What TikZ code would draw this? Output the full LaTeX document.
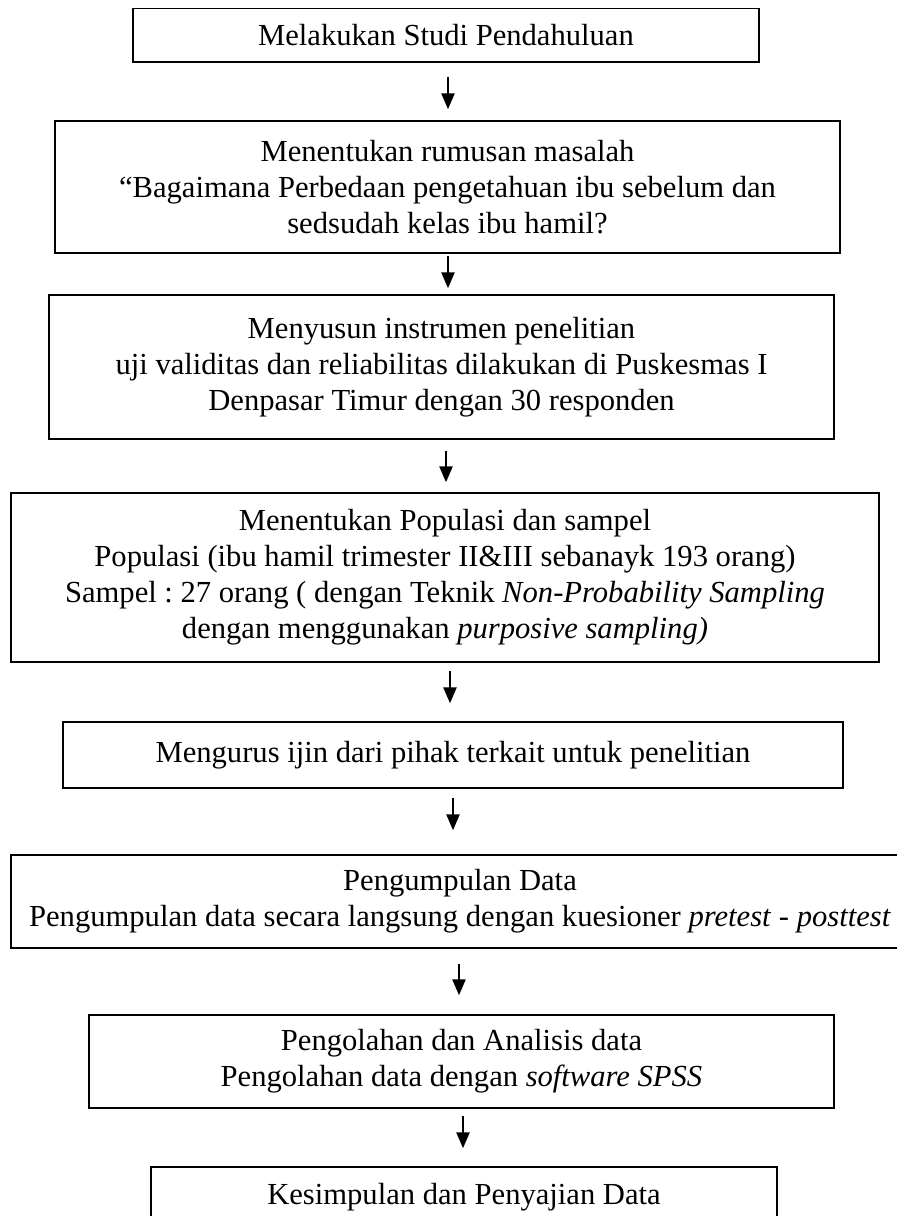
\documentclass[tikz,border=0pt]{standalone}
\usepackage{fontspec}
\setmainfont{Liberation Serif}
\usetikzlibrary{arrows.meta}
\frenchspacing
\newcommand{\boxfont}{\fontsize{30.6}{36}\selectfont}
\tikzset{
  flowarrow/.style={-{Triangle[length=16pt, width=13pt]}, line width=2.5pt},
  stepbox/.style={draw, line width=1.4pt, inner sep=0pt, align=center, font=\boxfont}
}

\begin{document}
\begin{tikzpicture}[x=1pt, y=-1pt]
  \useasboundingbox (0,0) rectangle (897,1216);
  \clip (0,0) rectangle (897,1216);
  \node[stepbox, minimum width=626pt, minimum height=53.5pt] (studi) at (446,35.25) {Melakukan Studi Pendahuluan};
  \node[stepbox, minimum width=785pt, minimum height=132pt] (rumusan) at (447.5,187) {Menentukan rumusan masalah\\ “Bagaimana Perbedaan pengetahuan ibu sebelum dan\\ sedsudah kelas ibu hamil?};
  \node[stepbox, minimum width=785pt, minimum height=144pt] (instrumen) at (441.5,367) {Menyusun instrumen penelitian\\ uji validitas dan reliabilitas dilakukan di Puskesmas I\\ Denpasar Timur dengan 30 responden};
  \node[stepbox, minimum width=868pt, minimum height=169pt] (populasi) at (445,577.5) {Menentukan Populasi dan sampel\\ Populasi (ibu hamil trimester II\&III sebanayk 193 orang)\\ Sampel : 27 orang ( dengan Teknik \textit{Non-Probability Sampling}\\ dengan menggunakan \textit{purposive sampling)}};
  \node[stepbox, minimum width=780pt, minimum height=66pt] (ijin) at (453,755) {Mengurus ijin dari pihak terkait untuk penelitian};
  \node[stepbox, minimum width=898pt, minimum height=93pt] (pengumpulan) at (460,901.5) {Pengumpulan Data\\ Pengumpulan data secara langsung dengan kuesioner \textit{pretest} - \textit{posttest}};
  \node[stepbox, minimum width=745pt, minimum height=93pt] (analisis) at (461.5,1061.5) {Pengolahan dan Analisis data\\ Pengolahan data dengan \textit{software SPSS}};
  \node[stepbox, minimum width=626pt, minimum height=60pt] (kesimpulan) at (464,1197) {Kesimpulan dan Penyajian Data};
  % arrows between the steps
  \draw[flowarrow] ([xshift=2pt, yshift=-14pt]studi.south) -- ([xshift=0.5pt, yshift=11pt]rumusan.north);
  \draw[flowarrow] ([xshift=0.5pt, yshift=-2pt]rumusan.south) -- ([xshift=6.5pt, yshift=6pt]instrumen.north);
  \draw[flowarrow] ([xshift=4.5pt, yshift=-11pt]instrumen.south) -- ([xshift=1pt, yshift=10pt]populasi.north);
  \draw[flowarrow] ([xshift=5pt, yshift=-8pt]populasi.south) -- ([xshift=-3pt, yshift=18pt]ijin.north);
  \draw[flowarrow] ([yshift=-9pt]ijin.south) -- ([xshift=-7pt, yshift=24pt]pengumpulan.north);
  \draw[flowarrow] ([xshift=-1pt, yshift=-15pt]pengumpulan.south) -- ([xshift=-2.5pt, yshift=19pt]analisis.north);
  \draw[flowarrow] ([xshift=1.5pt, yshift=-7pt]analisis.south) -- ([xshift=-1pt, yshift=18pt]kesimpulan.north);
\end{tikzpicture}
\end{document}
